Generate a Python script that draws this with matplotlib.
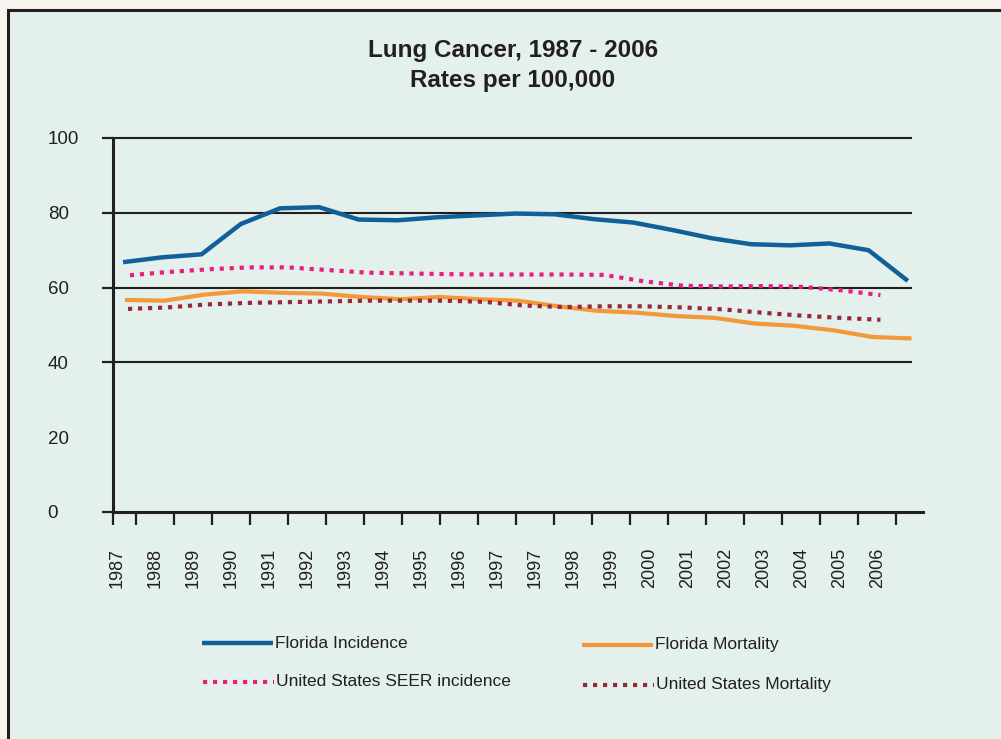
import numpy as np
import matplotlib.pyplot as plt
from matplotlib.patches import Rectangle
from matplotlib.lines import Line2D

# category labels along the x-axis (1997 appears twice in the original)
years = ["1987", "1988", "1989", "1990", "1991", "1992", "1993", "1994",
         "1995", "1996", "1997", "1997", "1998", "1999", "2000", "2001",
         "2002", "2003", "2004", "2005", "2006"]

# rates per 100,000
fl_incidence = [66.8, 68.1, 68.9, 77.0, 81.2, 81.5, 78.2, 78.0, 78.8, 79.3, 79.8,
                79.6, 78.3, 77.4, 75.4, 73.2, 71.6, 71.3, 71.8, 70.0, 61.8]
fl_mortality = [56.7, 56.5, 58.1, 59.0, 58.6, 58.4, 57.5, 56.9, 57.5, 56.9, 56.5,
                55.0, 53.8, 53.3, 52.4, 51.9, 50.4, 49.8, 48.6, 46.8, 46.4]
us_incidence = [63.3, 64.2, 64.9, 65.4, 65.4, 64.7, 64.0, 63.8, 63.6, 63.5,
                63.5, 63.5, 63.4, 61.7, 60.5, 60.3, 60.4, 60.2, 59.3, 58.0]
us_mortality = [54.3, 54.7, 55.5, 55.9, 56.1, 56.3, 56.5, 56.5, 56.5, 56.2,
                55.2, 54.8, 55.0, 55.0, 54.7, 54.2, 53.3, 52.5, 51.9, 51.4]

ytick_vals = [0, 20, 40, 60, 80, 100]
grid_levels = [40, 60, 80, 100]

series = [
    ("Florida Incidence", fl_incidence, (0.16, 20.8),
     dict(color="#12609a", lw=3.2, solid_capstyle="butt", solid_joinstyle="round")),
    ("Florida Mortality", fl_mortality, (0.21, 20.9),
     dict(color="#f49939", lw=3.0, solid_capstyle="butt", solid_joinstyle="round")),
    ("United States SEER incidence", us_incidence, (0.34, 20.08),
     dict(color="#ec1c80", lw=3.0, dashes=(1.0, 1.4), dash_capstyle="butt")),
    ("United States Mortality", us_mortality, (0.29, 20.08),
     dict(color="#97283a", lw=3.0, dashes=(1.0, 1.4), dash_capstyle="butt")),
]

W, H = 1001, 739
ink = "#231f20"
plt.rcParams["font.family"] = ["Liberation Sans", "DejaVu Sans"]


def fx(px):
    return px / W


def fy(py):
    return 1 - py / H


fig = plt.figure(figsize=(W / 100, H / 100), dpi=100, facecolor="#f8f5ee")

# mint panel with dark frame (only top/left edges visible)
fig.add_artist(Rectangle((fx(8), -0.2), 1.3, fy(10) + 0.2, transform=fig.transFigure,
                         facecolor="#e3f0eb", edgecolor=ink, lw=2.2, zorder=0))

ax = fig.add_axes([fx(113), fy(512), fx(923) - fx(113), fy(138) - fy(512)])
ax.set_facecolor("none")
ax.set_xlim(-0.105, 21.2)
ax.set_ylim(0, 100)

for lvl in grid_levels:
    ax.axhline(lvl, xmin=0, xmax=0.985, color=ink, lw=1.5, zorder=1, clip_on=False)

for name, vals, (x0, x1), style in series:
    xs = np.linspace(x0, x1, len(vals))
    ax.plot(xs, vals, zorder=3, **style)

for side in ["top", "right"]:
    ax.spines[side].set_visible(False)
for side in ["left", "bottom"]:
    ax.spines[side].set_linewidth(2.2)
    ax.spines[side].set_color(ink)
    ax.spines[side].set_zorder(4)

# y axis: labels left-aligned, no tick at 20
ax.set_yticks(ytick_vals)
ax.set_yticklabels([str(v) for v in ytick_vals])
ax.tick_params(axis="y", direction="out", length=8, width=1.6, color=ink,
               pad=39, labelsize=13.5, labelcolor=ink)
for lab in ax.get_yticklabels():
    lab.set_horizontalalignment("left")
ax.yaxis.get_major_ticks()[1].tick1line.set_visible(False)

# x axis: ticks between categories, labels on minor ticks
xpos = np.arange(len(years))
ax.set_xticks(np.concatenate(([-0.105], xpos + 0.5)))
ax.set_xticklabels([])
ax.set_xticks(xpos, minor=True)
ax.set_xticklabels(years, minor=True, rotation=90)
ax.tick_params(axis="x", which="major", direction="out", length=9, width=1.6, color=ink)
ax.tick_params(axis="x", which="minor", length=0, pad=26, labelsize=13, labelcolor=ink)

# title
fig.text(fx(513), fy(51), "Lung Cancer, 1987 - 2006", ha="center", va="center",
         fontsize=17.5, fontweight="bold", color=ink)
fig.text(fx(513), fy(80), "Rates per 100,000", ha="center", va="center",
         fontsize=17.5, fontweight="bold", color=ink)

# legend, 2 x 2, line handle followed directly by the text
legend_pos = [(202, 643), (582, 645), (203, 682), (583, 685)]
for (name, vals, _, style), (lx, ly) in zip(series, legend_pos):
    fig.add_artist(Line2D([fx(lx), fx(lx + 71)], [fy(ly), fy(ly)],
                          transform=fig.transFigure, **style))
    fig.text(fx(lx + 73), fy(ly), name, ha="left", va="center",
             fontsize=12.5, color=ink)

fig.savefig("out.png", dpi=100, facecolor=fig.get_facecolor())
